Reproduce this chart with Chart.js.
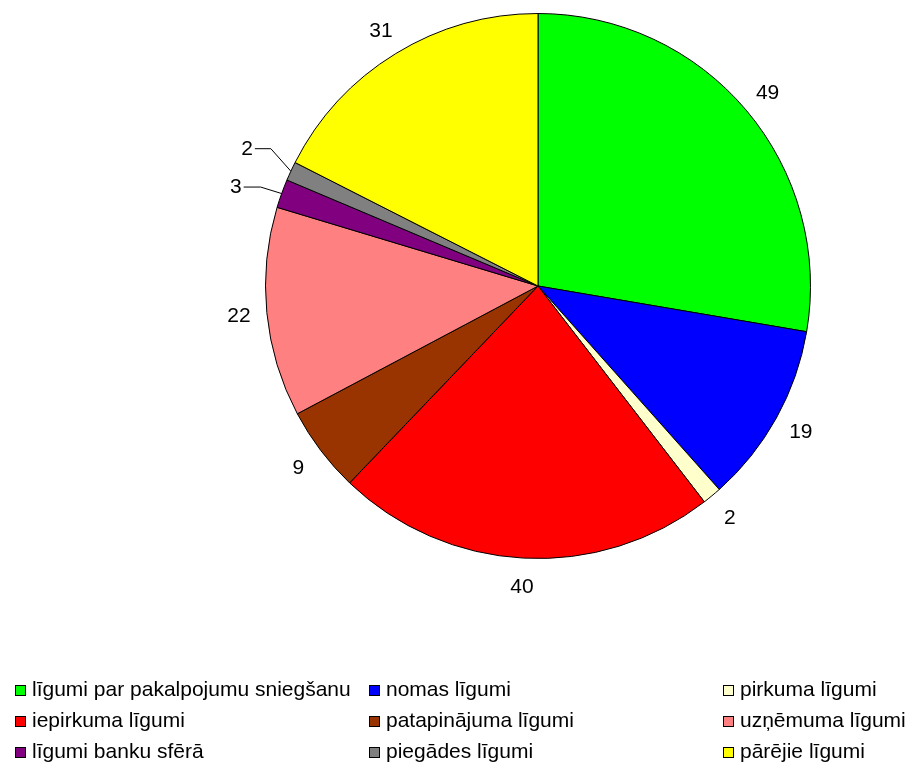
<!DOCTYPE html>
<html>
<head>
<meta charset="utf-8">
<script src="https://cdn.jsdelivr.net/npm/chart.js@4"></script>
<style>
  html, body { margin: 0; padding: 0; background: #fff; }
  #c { display: block; }
</style>
</head>
<body>
<canvas id="c" width="912" height="767"></canvas>
<script>
const categories = [
  "līgumi par pakalpojumu sniegšanu",
  "nomas līgumi",
  "pirkuma līgumi",
  "iepirkuma līgumi",
  "patapinājuma līgumi",
  "uzņēmuma līgumi",
  "līgumi banku sfērā",
  "piegādes līgumi",
  "pārējie līgumi"
];
const values = [49, 19, 2, 40, 9, 22, 3, 2, 31];
const colors = ["#00FF00", "#0000FF", "#FFFFCC", "#FF0000", "#993300", "#FF8080", "#800080", "#808080", "#FFFF00"];

const FONT = '21px "Liberation Sans", Arial, sans-serif';

const labelPlugin = {
  id: 'outsideLabels',
  afterDatasetsDraw(chart, args, opts) {
    const ctx = chart.ctx;
    const meta = chart.getDatasetMeta(0);
    ctx.save();
    ctx.font = FONT;
    ctx.fillStyle = '#000';
    ctx.textBaseline = 'middle';
    meta.data.forEach((arc, i) => {
      const { x, y, startAngle, endAngle, outerRadius } = arc.getProps(['x','y','startAngle','endAngle','outerRadius'], true);
      const mid = (startAngle + endAngle) / 2;
      const leader = opts.leaders[i];
      const txt = String(values[i]);
      if (leader) {
        const ex = x + Math.cos(mid) * outerRadius;
        const ey = y + Math.sin(mid) * outerRadius;
        const kx = ex + leader.dx, ky = ey + leader.dy;
        const hx = kx - leader.h;
        ctx.strokeStyle = '#000';
        ctx.lineWidth = 1;
        ctx.beginPath();
        ctx.moveTo(ex, ey);
        ctx.lineTo(kx, ky + 0.5);
        ctx.lineTo(hx, ky + 0.5);
        ctx.stroke();
        ctx.textAlign = 'right';
        ctx.fillText(txt, hx - 2, ky + 1);
      } else {
        const d = outerRadius + opts.offset;
        ctx.textAlign = 'center';
        ctx.fillText(txt, x + Math.cos(mid) * d, y + Math.sin(mid) * d + opts.dy);
      }
    });
    ctx.restore();
  }
};

const legendPlugin = {
  id: 'gridLegend',
  afterDraw(chart, args, opts) {
    const ctx = chart.ctx;
    ctx.save();
    ctx.font = FONT;
    ctx.textAlign = 'left';
    ctx.textBaseline = 'alphabetic';
    categories.forEach((name, i) => {
      const col = i % opts.cols.length, row = Math.floor(i / opts.cols.length);
      const x = opts.cols[col], base = opts.rows[row];
      ctx.fillStyle = colors[i];
      ctx.fillRect(x, base - 11, 11, 11);
      ctx.strokeStyle = '#000';
      ctx.lineWidth = 1;
      ctx.strokeRect(x + 0.5, base - 10.5, 10, 10);
      ctx.fillStyle = '#000';
      ctx.fillText(name, x + 17, base);
    });
    ctx.restore();
  }
};

new Chart(document.getElementById('c'), {
  type: 'pie',
  data: {
    labels: categories,
    datasets: [{
      data: values,
      backgroundColor: colors,
      borderColor: '#000',
      borderWidth: 1
    }]
  },
  options: {
    responsive: false,
    animation: false,
    layout: { padding: { top: 13, bottom: 208, left: 265, right: 101 } },
    plugins: {
      legend: { display: false },
      tooltip: { enabled: false },
      outsideLabels: {
        offset: 28,
        dy: 1,
        leaders: { 6: { dx: -21, dy: -7, h: 17 }, 7: { dx: -20, dy: -23, h: 16 } }
      },
      gridLegend: { cols: [15, 369, 723], rows: [696, 727, 758] }
    }
  },
  plugins: [labelPlugin, legendPlugin]
});
</script>
</body>
</html>
